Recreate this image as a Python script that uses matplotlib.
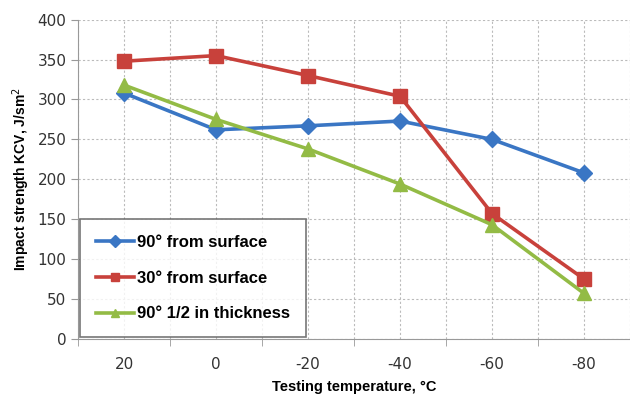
import matplotlib
matplotlib.use("Agg")
import matplotlib.pyplot as plt
import numpy as np

categories = ["20", "0", "-20", "-40", "-60", "-80"]
series_names = ["90° from surface", "30° from surface", "90° 1/2 in thickness"]
blue_vals = [308, 262, 267, 273, 250, 208]
red_vals = [348, 355, 330, 304, 157, 75]
green_vals = [318, 275, 238, 194, 143, 57]

fig = plt.figure(figsize=(6.3, 3.94), dpi=100)
ax = fig.add_axes([0.124, 0.14, 0.876, 0.81])

x = np.arange(len(categories))
ax.plot(x, blue_vals, color="#3a76c4", lw=2.6, marker="D", ms=8, label=series_names[0], zorder=3)
ax.plot(x, red_vals, color="#c8413b", lw=2.6, marker="s", ms=10, label=series_names[1], zorder=3)
ax.plot(x, green_vals, color="#93bb45", lw=2.6, marker="^", ms=10, label=series_names[2], zorder=3)

ax.set_xlim(-0.5, len(categories) - 0.5)
ax.set_ylim(0, 400)
ax.set_yticks(np.arange(0, 401, 50))
ax.set_xticks(x)
ax.set_xticklabels(categories)
ax.set_xticks(np.arange(-0.5, len(categories), 1), minor=True)
ax.tick_params(axis="x", which="major", length=0, labelsize=11, colors="#333333", pad=13)
ax.tick_params(axis="x", which="minor", length=5, color="#999999")
ax.tick_params(axis="y", length=5, color="#999999", labelsize=11, labelcolor="#333333")

ax.grid(True, which="both", axis="x", ls=(0, (2, 2)), color="#bbbbbb", lw=0.8)
ax.grid(True, which="major", axis="y", ls=(0, (2, 2)), color="#bbbbbb", lw=0.8)
ax.set_axisbelow(True)
for s in ["top", "right"]:
    ax.spines[s].set_visible(False)
for s in ["left", "bottom"]:
    ax.spines[s].set_color("#999999")

ax.set_ylabel("Impact strength KCV, J/sm$^2$", fontsize=10, fontweight="bold", family="Liberation Sans", labelpad=4)
ax.set_xlabel("Testing temperature, °C", fontsize=10.5, fontweight="bold", family="Liberation Sans", labelpad=6)

leg = ax.legend(loc="lower left", bbox_to_anchor=(0.0, 0.0), frameon=True, fancybox=False,
                edgecolor="#555555", prop={"family": "Liberation Sans", "weight": "bold", "size": 12},
                labelspacing=1.25, borderpad=0.95, handlelength=2.3, handletextpad=0.2, borderaxespad=0.1)
leg.get_frame().set_linewidth(1.2)
for h in leg.legend_handles:
    h.set_markersize(6)

fig.savefig("out.png", dpi=100)
